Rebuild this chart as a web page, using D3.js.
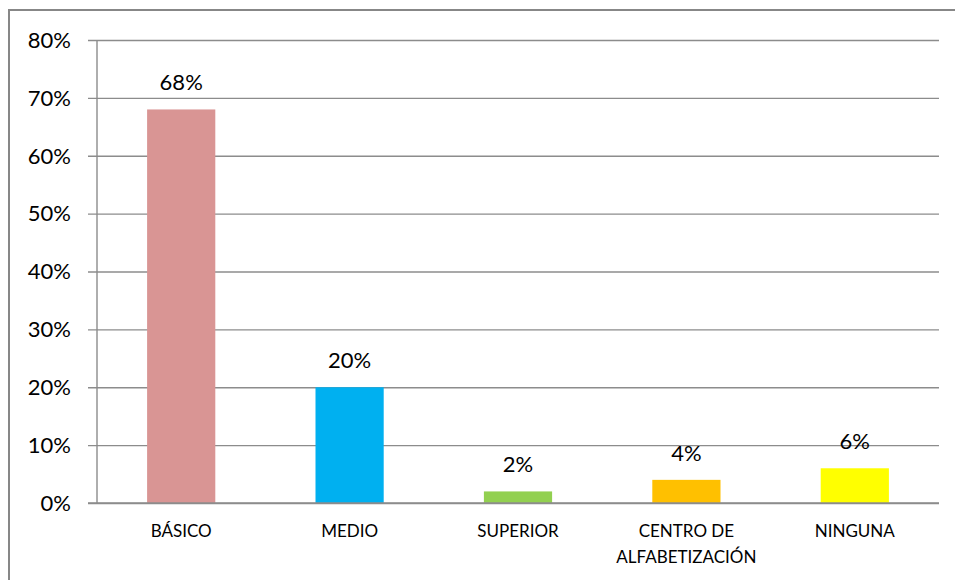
<!DOCTYPE html>
<html>
<head>
	<meta charset="UTF-8" />
	<title>nivel de escolaridad</title>
	<script src="https://d3js.org/d3.v7.min.js"></script>
	<style>
		body { margin: 0; background: #fff; }
		text { font-family: Lato, "Open Sans", sans-serif; fill: #000; }
	</style>
</head>
<body>
	<svg id="chart" width="955" height="580"></svg>

	<script type="text/javascript">
	// data
	categories = ["BÁSICO", "MEDIO", "SUPERIOR", "CENTRO DE\nALFABETIZACIÓN", "NINGUNA"]
	values = [0.68, 0.20, 0.02, 0.04, 0.06]
	barColors = ["#d99594", "#00b0f0", "#92d050", "#ffc000", "#ffff00"]
	yTicks = [0, 0.1, 0.2, 0.3, 0.4, 0.5, 0.6, 0.7, 0.8]

	gridGray = "#8c8c8c"

	var svg = d3.select("#chart")

	// outer border (right/bottom run off the picture)
	svg.append("rect")
		.attr("x", 9).attr("y", 10)
		.attr("width", 960).attr("height", 600)
		.style("fill", "none")
		.style("stroke", "#878787")
		.style("stroke-width", "2px")

	//scale
	var xScale = d3.scaleBand().domain(categories).range([97, 939])
	var yScale = d3.scaleLinear().domain([0, 0.8]).range([503, 40])
	var barW = xScale.bandwidth() * 0.405

	//gridlines + y axis
	yAxis = d3.axisLeft().scale(yScale).tickValues(yTicks)
		.tickFormat(d3.format(".0%"))
		.tickSize(-(939 - 97))
	var yG = svg.append("g").attr("transform", "translate(97,0)").call(yAxis)
	yG.select(".domain").remove()
	yG.selectAll(".tick line")
		.attr("x1", -9)
		.style("stroke", gridGray)
		.style("stroke-width", "1.4px")
	yG.selectAll(".tick text")
		.attr("x", -26)
		.attr("dy", "0.33em")
		.style("font-size", "22px")
		.style("font-family", "Lato, sans-serif")

	// vertical axis line
	svg.append("line")
		.attr("x1", 97).attr("x2", 97)
		.attr("y1", yScale(0.8)).attr("y2", yScale(0))
		.style("stroke", gridGray)
		.style("stroke-width", "1.4px")

	//bars
	svg.selectAll("rect.bar")
		.data(values)
		.enter().append("rect")
		.attr("class", "bar")
		.attr("x", (d, i) => xScale(categories[i]) + (xScale.bandwidth() - barW) / 2)
		.attr("y", d => yScale(d))
		.attr("width", barW)
		.attr("height", d => yScale(0) - yScale(d))
		.style("fill", (d, i) => barColors[i])

	// 0% line on top of bars
	svg.append("line")
		.attr("x1", 88).attr("x2", 939)
		.attr("y1", yScale(0)).attr("y2", yScale(0))
		.style("stroke", gridGray)
		.style("stroke-width", "1.4px")

	//value labels
	svg.selectAll("text.val")
		.data(values)
		.enter().append("text")
		.attr("class", "val")
		.attr("x", (d, i) => xScale(categories[i]) + xScale.bandwidth() / 2)
		.attr("y", d => yScale(d) - 19)
		.attr("text-anchor", "middle")
		.style("font-size", "22px")
		.text(d => d3.format(".0%")(d))

	//category labels
	var cats = svg.selectAll("text.cat")
		.data(categories)
		.enter().append("text")
		.attr("class", "cat")
		.attr("x", d => xScale(d) + xScale.bandwidth() / 2)
		.attr("y", 537)
		.attr("text-anchor", "middle")
		.style("font-size", "17px")
	cats.each(function(d) {
		d.split("\n").forEach((line, k) => {
			d3.select(this).append("tspan")
				.attr("x", xScale(d) + xScale.bandwidth() / 2)
				.attr("dy", k == 0 ? 0 : 26)
				.text(line)
		})
	})
	</script>
</body>
</html>
